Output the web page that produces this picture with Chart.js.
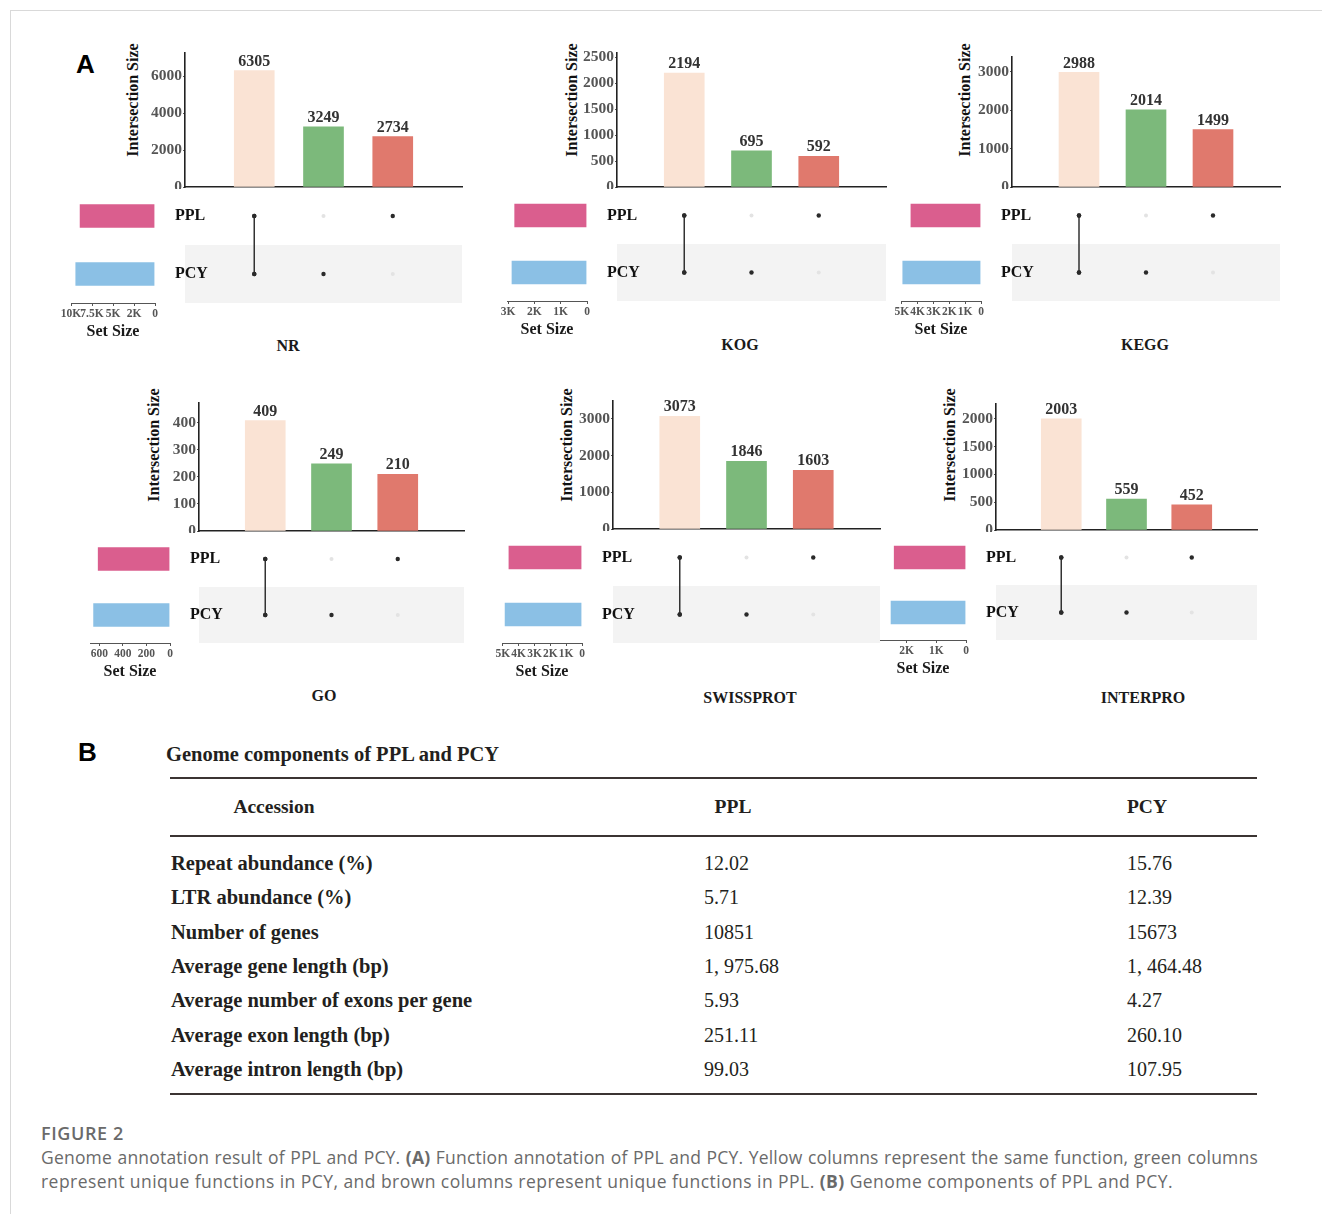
<!DOCTYPE html>
<html>
<head>
<meta charset="utf-8">
<title>Genome annotation result of PPL and PCY</title>
<script src="https://cdn.jsdelivr.net/npm/chart.js@4.4.1/dist/chart.umd.min.js"></script>
<style>
  html, body { margin: 0; padding: 0; background: #fff; }
  #page { position: relative; width: 1322px; height: 1214px; overflow: hidden; background: #fff; }
  #frame { position: absolute; left: 10px; top: 10px; width: 1400px; height: 1400px;
           border-left: 1.5px solid #d9d9d9; border-top: 1.5px solid #d9d9d9; }
  canvas { position: absolute; }
  .txt { position: absolute; white-space: nowrap; }
  .serif { font-family: "Liberation Serif", "Times New Roman", serif; }
  .panel-letter { font-family: "Liberation Sans", Arial, sans-serif; font-weight: bold; font-size: 26px; color: #000; line-height: 30px; }
  .ytitle { font-weight: bold; font-size: 16px; color: #111; line-height: 18px; transform: translate(-50%, -50%) rotate(-90deg); }
  .ptitle { font-weight: bold; font-size: 16px; color: #1a1a1a; line-height: 20px; transform: translate(-50%, -50%); }
  .tbl-title { font-weight: bold; font-size: 20.5px; color: #231f20; line-height: 24px; }
  .rule { position: absolute; height: 2px; background: #3b3432; }
  .cell-h { font-weight: bold; font-size: 19.5px; color: #231f20; line-height: 24px; }
  .cell-b { font-weight: bold; font-size: 20.5px; color: #231f20; line-height: 24px; }
  .cell { font-size: 20px; color: #231f20; line-height: 24px; }
  .cap { font-family: "Open Sans", "Noto Sans", sans-serif; color: #6a6a6a; font-size: 17.5px; letter-spacing: 0.45px; line-height: 24px; }
  .cap-head { font-family: "Open Sans", "Noto Sans", sans-serif; color: #6a6a6a; font-size: 18px; letter-spacing: 0.6px; font-weight: 600; line-height: 24px; }
</style>
</head>
<body>
<div id="page"><div id="frame"></div></div>
<script>
// ---------- data ----------
const panelNames = ['NR', 'KOG', 'KEGG', 'GO', 'SWISSPROT', 'INTERPRO'];
const setNames = ['PPL', 'PCY'];
// intersection columns: shared by both, PCY only, PPL only
const sharedCounts  = [6305, 2194, 2988, 409, 3073, 2003];
const pcyOnlyCounts = [3249,  695, 2014, 249, 1846,  559];
const pplOnlyCounts = [2734,  592, 1499, 210, 1603,  452];
// membership of each intersection column in [PPL, PCY]
const membership = [[1, 1], [0, 1], [1, 0]];
// set sizes
const setSizePPL = [9039, 2786, 4487, 619, 4676, 2455];
const setSizePCY = [9554, 2889, 5002, 658, 4919, 2562];
// tick values and labels
const intersectionTicks = [
  [0, 2000, 4000, 6000],
  [0, 500, 1000, 1500, 2000, 2500],
  [0, 1000, 2000, 3000],
  [0, 100, 200, 300, 400],
  [0, 1000, 2000, 3000],
  [0, 500, 1000, 1500, 2000]
];
const setSizeTicks = [
  [0, 2500, 5000, 7500, 10000],
  [0, 1000, 2000, 3000],
  [0, 1000, 2000, 3000, 4000, 5000],
  [0, 200, 400, 600],
  [0, 1000, 2000, 3000, 4000, 5000],
  [0, 1000, 2000]
];
const setSizeTickLabels = [
  ['0', '2K', '5K', '7.5K', '10K'],
  ['0', '1K', '2K', '3K'],
  ['0', '1K', '2K', '3K', '4K', '5K'],
  ['0', '200', '400', '600'],
  ['0', '1K', '2K', '3K', '4K', '5K'],
  ['0', '1K', '2K']
];

// table B
const tableTitle = 'Genome components of PPL and PCY';
const tableHeader = ['Accession', 'PPL', 'PCY'];
const rowLabels = ['Repeat abundance (%)', 'LTR abundance (%)', 'Number of genes',
  'Average gene length (bp)', 'Average number of exons per gene',
  'Average exon length (bp)', 'Average intron length (bp)'];
const pplValues = ['12.02', '5.71', '10851', '1, 975.68', '5.93', '251.11', '99.03'];
const pcyValues = ['15.76', '12.39', '15673', '1, 464.48', '4.27', '260.10', '107.95'];

// ---------- layout and styles ----------
const panelLayout = [
  { axisX: 185,  axisEnd: 462,  top: 53,  base: 187, matrixBottom: 303, yMax: 7250, setLeft: 71,  setRight: 155, setMax: 10000, titleX: 288,  titleY: 346, yTitleX: 133, yTitleY: 100 },
  { axisX: 617,  axisEnd: 886,  top: 53,  base: 187, matrixBottom: 301, yMax: 2580, setLeft: 507, setRight: 587, setMax: 3040,  titleX: 740,  titleY: 345, yTitleX: 572, yTitleY: 100 },
  { axisX: 1012, axisEnd: 1280, top: 57,  base: 187, matrixBottom: 301, yMax: 3390, setLeft: 901, setRight: 981, setMax: 5050,  titleX: 1145, titleY: 345, yTitleX: 965, yTitleY: 100 },
  { axisX: 199,  axisEnd: 464,  top: 403, base: 531, matrixBottom: 643, yMax: 474,  setLeft: 90,  setRight: 170, setMax: 680,   titleX: 324,  titleY: 696, yTitleX: 154, yTitleY: 445 },
  { axisX: 613,  axisEnd: 880,  top: 401, base: 529, matrixBottom: 643, yMax: 3490, setLeft: 502, setRight: 582, setMax: 5050,  titleX: 750,  titleY: 698, yTitleX: 567, yTitleY: 445 },
  { axisX: 996,  axisEnd: 1257, top: 404, base: 530, matrixBottom: 640, yMax: 2270, setLeft: 880, setRight: 966, setMax: 2900,  titleX: 1143, titleY: 698, yTitleX: 950, yTitleY: 445 }
];
const columnColors = ['#FAE3D4', '#7CB97B', '#E0796D'];
const setColors = ['#DA5E8E', '#8BC0E5'];
const SERIF = '"Liberation Serif", "Times New Roman", serif';

Chart.defaults.font.family = SERIF;
Chart.defaults.animation = false;
Chart.defaults.responsive = false;
Chart.defaults.devicePixelRatio = 1;
Chart.defaults.plugins.legend.display = false;
Chart.defaults.plugins.tooltip.enabled = false;

const page = document.getElementById('page');

function makeCanvas(left, top, width, height, z) {
  const cv = document.createElement('canvas');
  cv.width = Math.round(width);
  cv.height = Math.round(height);
  cv.style.left = left + 'px';
  cv.style.top = top + 'px';
  cv.style.width = Math.round(width) + 'px';
  cv.style.height = Math.round(height) + 'px';
  cv.style.zIndex = z;
  page.appendChild(cv);
  return cv;
}

function addText(cls, text, left, top, extraStyle) {
  const d = document.createElement('div');
  d.className = 'txt ' + cls;
  d.textContent = text;
  d.style.left = left + 'px';
  d.style.top = top + 'px';
  if (extraStyle) Object.assign(d.style, extraStyle);
  page.appendChild(d);
  return d;
}

// fixed scale thickness, no extra label overhang padding
function fixScale(size) {
  return s => {
    if (s.isHorizontal()) s.height = size; else s.width = size;
    s.paddingTop = 0; s.paddingBottom = 0; s.paddingLeft = 0; s.paddingRight = 0;
  };
}

// value labels above the intersection bars
const barValueLabels = {
  id: 'barValueLabels',
  afterDatasetsDraw(chart) {
    const ctx = chart.ctx;
    const meta = chart.getDatasetMeta(0);
    const data = chart.data.datasets[0].data;
    ctx.save();
    ctx.font = 'bold 16px ' + SERIF;
    ctx.fillStyle = '#333';
    ctx.textAlign = 'center';
    ctx.textBaseline = 'bottom';
    meta.data.forEach((bar, k) => ctx.fillText(String(data[k].y), bar.x, bar.y - 1));
    ctx.restore();
  }
};

// shaded band behind the second set row of the matrix
const matrixBand = {
  id: 'matrixBand',
  beforeDraw(chart) {
    const { ctx, chartArea, scales } = chart;
    const y0 = scales.y.getPixelForValue(0.5);
    const y1 = scales.y.getPixelForValue(1.5);
    ctx.save();
    ctx.fillStyle = '#F3F3F3';
    ctx.fillRect(chartArea.left, y0, chartArea.right - chartArea.left, y1 - y0);
    ctx.restore();
  }
};

function intersectionChart(i) {
  const L = panelLayout[i];
  const padTop = 30, yw = 62, padRight = 4, padBottom = 2;
  const cv = makeCanvas(L.axisX - yw, L.top - padTop, L.axisEnd - L.axisX + yw + padRight,
                        L.base - L.top + padTop + padBottom, 3);
  const values = [sharedCounts[i], pcyOnlyCounts[i], pplOnlyCounts[i]];
  new Chart(cv, {
    type: 'bar',
    data: {
      datasets: [{
        data: values.map((v, k) => ({ x: k + 1, y: v })),
        backgroundColor: columnColors,
        borderWidth: 0,
        barThickness: 40
      }]
    },
    options: {
      layout: { autoPadding: false, padding: { top: padTop, right: padRight, bottom: padBottom, left: 0 } },
      scales: {
        x: {
          type: 'linear', min: 0, max: 4, offset: false,
          grid: { display: false, drawTicks: false },
          ticks: { display: false },
          border: { display: true, color: '#222', width: 1.6 },
          afterFit: fixScale(0)
        },
        y: {
          min: 0, max: L.yMax,
          afterBuildTicks: s => { s.ticks = intersectionTicks[i].map(v => ({ value: v })); },
          afterFit: fixScale(yw),
          grid: { display: true, drawOnChartArea: false, drawTicks: true, tickLength: 2, color: '#555' },
          border: { display: true, color: '#222', width: 1.6 },
          ticks: { padding: 1, color: '#555', font: { family: SERIF, weight: 'bold', size: 15.5 },
                   callback: v => String(v) }
        }
      }
    },
    plugins: [barValueLabels]
  });
}

function matrixChart(i) {
  const L = panelLayout[i];
  const cv = makeCanvas(L.axisX, L.base, L.axisEnd - L.axisX, L.matrixBottom - L.base, 1);
  const active = [], inactive = [], links = [];
  membership.forEach((m, k) => {
    const members = [];
    setNames.forEach((s, j) => {
      const pt = { x: k + 1, y: s };
      if (m[j]) { active.push(pt); members.push(pt); } else { inactive.push(pt); }
    });
    if (members.length > 1) links.push(members);
  });
  const datasets = [
    { data: inactive, pointRadius: 2, pointBackgroundColor: '#E3E3E3', pointBorderWidth: 0, showLine: false },
    { data: active, pointRadius: 2.2, pointBackgroundColor: '#2a2a2a', pointBorderWidth: 0, showLine: false }
  ];
  links.forEach(pts => datasets.push({
    data: pts, showLine: true, borderColor: '#333', borderWidth: 1.5,
    pointRadius: 2.2, pointBackgroundColor: '#2a2a2a', pointBorderWidth: 0
  }));
  new Chart(cv, {
    type: 'scatter',
    data: { datasets },
    options: {
      layout: { autoPadding: false, padding: 0 },
      scales: {
        x: { type: 'linear', min: 0, max: 4, display: false },
        y: { type: 'category', labels: setNames, offset: true, display: false }
      }
    },
    plugins: [matrixBand]
  });
}

function setSizeChart(i) {
  const L = panelLayout[i];
  const padL = 16, labelW = 60, bottomH = 38;
  const cv = makeCanvas(L.setLeft - padL, L.base, (L.setRight - L.setLeft) + padL + labelW,
                        (L.matrixBottom - L.base) + bottomH, 2);
  new Chart(cv, {
    type: 'bar',
    data: {
      labels: setNames,
      datasets: [{
        data: [setSizePPL[i], setSizePCY[i]],
        backgroundColor: setColors,
        borderColor: 'rgba(255,255,255,0.55)',
        borderWidth: 1,
        barThickness: 25
      }]
    },
    options: {
      indexAxis: 'y',
      layout: { autoPadding: false, padding: { left: padL, right: 0, top: 0, bottom: 0 } },
      scales: {
        x: {
          type: 'linear', min: 0, max: L.setMax, reverse: true,
          afterBuildTicks: s => { s.ticks = setSizeTicks[i].map(v => ({ value: v })); },
          afterFit: fixScale(bottomH),
          grid: { display: true, drawOnChartArea: false, drawTicks: true, tickLength: 3, color: '#555' },
          border: { display: true, color: '#555', width: 1 },
          ticks: {
            autoSkip: false, maxRotation: 0, padding: 1, color: '#555',
            font: { family: SERIF, weight: 'bold', size: 11.5 },
            callback: v => setSizeTickLabels[i][setSizeTicks[i].indexOf(v)]
          },
          title: { display: true, text: 'Set Size', color: '#1a1a1a', padding: 0,
                   font: { family: SERIF, weight: 'bold', size: 16 } }
        },
        y: {
          position: 'right', offset: true,
          grid: { display: false, drawTicks: false },
          border: { display: false },
          afterFit: fixScale(labelW),
          ticks: { padding: 20, color: '#111', font: { family: SERIF, weight: 'bold', size: 16 } }
        }
      }
    }
  });
}

// ---------- panel A ----------
addText('panel-letter', 'A', 76, 49);
panelNames.forEach((name, i) => {
  const L = panelLayout[i];
  intersectionChart(i);
  matrixChart(i);
  setSizeChart(i);
  addText('serif ytitle', 'Intersection Size', L.yTitleX, L.yTitleY);
  addText('serif ptitle', name, L.titleX, L.titleY);
});

// ---------- panel B ----------
addText('panel-letter', 'B', 78, 737);
addText('serif tbl-title', tableTitle, 166, 742);
[777, 835, 1093].forEach(y => {
  const r = document.createElement('div');
  r.className = 'rule';
  Object.assign(r.style, { left: '170px', top: y + 'px', width: '1087px' });
  page.appendChild(r);
});
addText('serif cell-h', tableHeader[0], 274, 795, { transform: 'translateX(-50%)' });
addText('serif cell-h', tableHeader[1], 733, 795, { transform: 'translateX(-50%)' });
addText('serif cell-h', tableHeader[2], 1147, 795, { transform: 'translateX(-50%)' });
rowLabels.forEach((lab, k) => {
  const cy = 863 + k * 34.33;
  addText('serif cell-b', lab, 171, cy - 12);
  addText('serif cell', pplValues[k], 704, cy - 12);
  addText('serif cell', pcyValues[k], 1127, cy - 12);
});

// ---------- caption ----------
addText('cap-head', 'FIGURE 2', 41, 1121);
const cap1 = document.createElement('div');
cap1.className = 'cap';
Object.assign(cap1.style, { position: 'absolute', left: '41px', top: '1145px', width: '1217px',
  letterSpacing: '0.2px', textAlign: 'justify', textAlignLast: 'justify' });
cap1.innerHTML = 'Genome annotation result of PPL and PCY. <b>(A)</b> Function annotation of PPL and PCY. Yellow columns represent the same function, green columns';
page.appendChild(cap1);
const cap2 = document.createElement('div');
cap2.className = 'cap';
Object.assign(cap2.style, { position: 'absolute', left: '41px', top: '1169px', whiteSpace: 'nowrap' });
cap2.innerHTML = 'represent unique functions in PCY, and brown columns represent unique functions in PPL. <b>(B)</b> Genome components of PPL and PCY.';
page.appendChild(cap2);
</script>
</body>
</html>
